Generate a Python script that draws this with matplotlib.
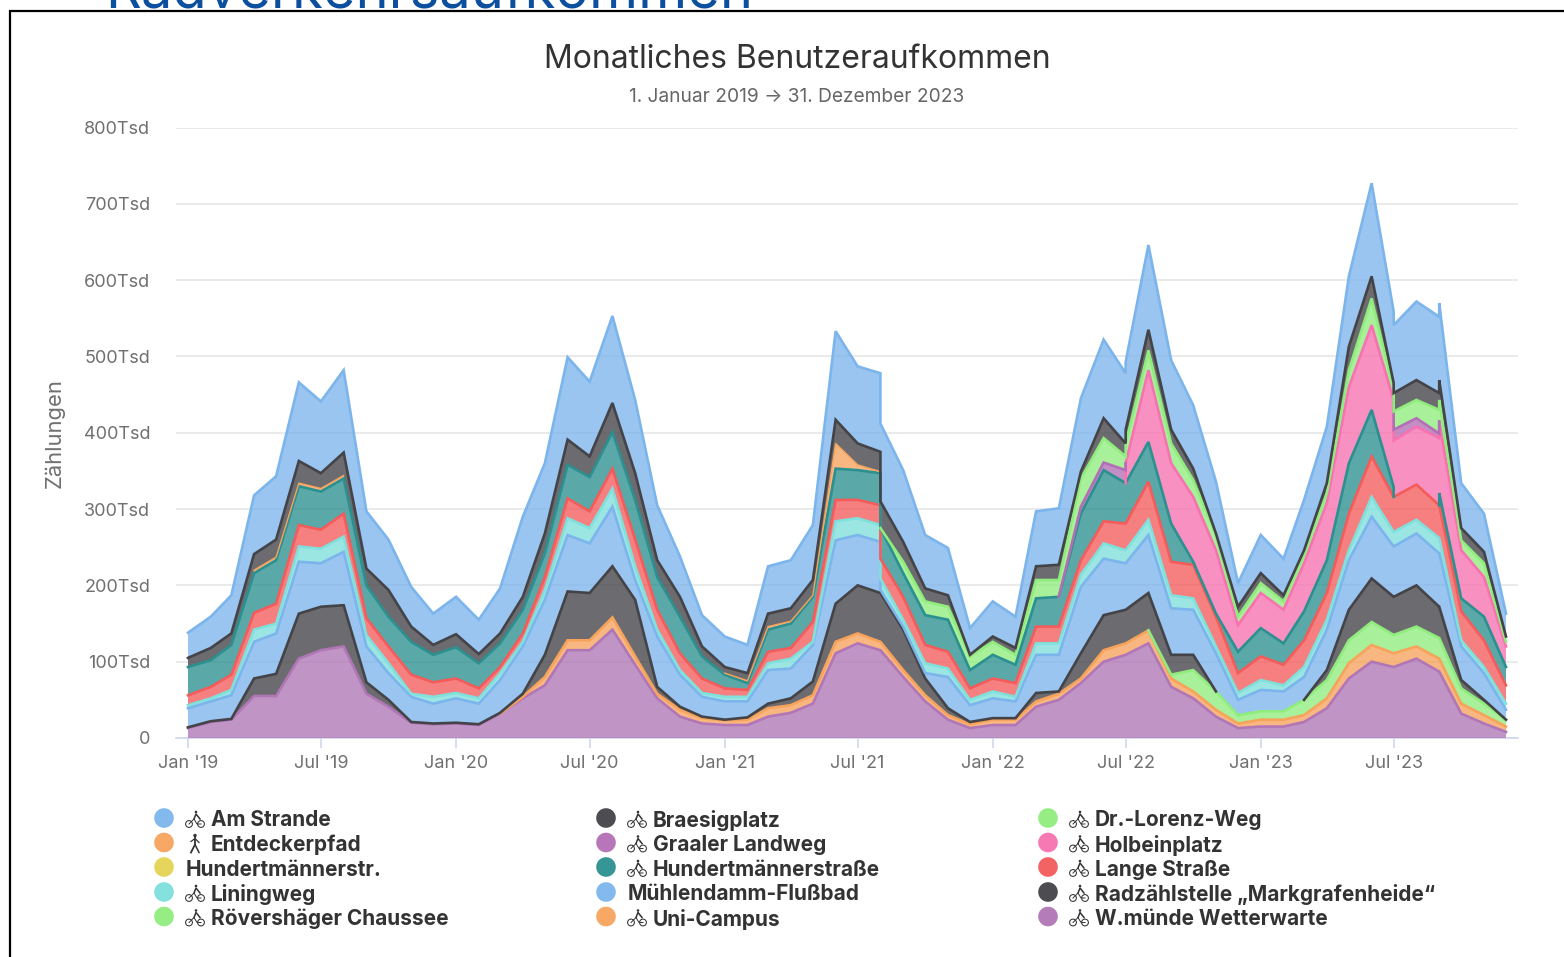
import numpy as np
import pandas as pd
import matplotlib
matplotlib.use("Agg")
import matplotlib.pyplot as plt
import matplotlib.dates as mdates
from matplotlib.patches import Circle

W_PX, H_PX = 1564, 957
FONT = ["Inter", "DejaVu Sans"]
plt.rcParams["font.family"] = FONT

# Months; four of them appear twice in the source (series drop in or out there)
months = pd.date_range("2019-01-01", periods=60, freq="MS")
repeated_months = [31, 42, 54, 56]

# Upper edge of each stack layer in thousands, bottom to top
top_wetterwarte = [13,21,24,55,55,104,115,120,58,41,20,18,19,17,32,52,69,115,115,142,96,52,28,19,17,17,28,33,45,111,124,115,115,80,48,24,13,17,17,41,50,72,100,109,109,124,67,52,28,13,15,15,21,39,78,100,93,93,104,87,87,32,19,8]
top_uni = [13,21,24,55,55,104,115,120,58,41,20,18,19,17,32,54,80,128,128,158,107,58,37,26,23,24,39,43,56,126,137,126,126,89,56,30,18,24,24,48,58,78,115,124,124,141,78,61,37,19,24,24,30,52,98,122,111,111,120,104,104,45,30,15]
top_roevershaeger = [13,21,24,55,55,104,115,120,58,41,20,18,19,17,32,54,80,128,128,158,107,58,37,26,23,24,39,43,56,126,137,126,126,89,56,30,18,24,24,48,58,78,115,124,124,141,83,89,61,30,35,35,50,76,128,152,135,135,146,131,131,65,45,24]
top_radz = [14,22,25,78,84,163,172,174,73,50,21,19,20,18,33,58,109,192,190,225,181,67,41,28,24,27,45,52,74,176,200,190,190,142,78,39,21,26,26,59,61,111,161,168,168,190,109,109,61,30,35,35,50,89,168,209,185,185,200,172,172,76,50,24]
top_muehlendamm = [39,48,56,126,137,231,229,244,120,85,54,45,52,45,76,120,181,266,255,303,207,133,83,54,48,48,89,91,122,259,266,257,194,146,85,80,43,52,48,109,109,198,235,229,229,266,170,168,111,50,63,61,80,142,233,290,251,251,268,242,242,120,85,37]
top_liningweg = [43,52,63,142,150,251,248,264,135,98,58,54,59,52,85,126,194,288,275,327,225,142,89,59,54,54,98,104,126,284,288,279,209,155,98,91,50,61,54,124,124,214,255,246,246,286,187,183,120,59,76,69,93,155,246,316,270,270,286,262,262,128,93,45]
top_lange = [56,67,83,164,176,279,273,294,157,120,83,73,78,65,93,137,211,314,297,353,260,168,111,78,65,63,113,118,152,312,312,305,235,185,122,113,65,78,72,146,146,233,284,281,281,336,231,227,159,85,107,96,128,190,294,369,316,316,332,305,305,166,128,69]
top_hundertstrasse = [93,102,122,216,233,330,323,340,200,159,126,109,119,98,124,168,242,358,342,401,312,211,159,107,83,72,142,150,185,353,351,347,275,216,161,155,89,109,96,183,185,294,351,334,334,388,281,231,163,113,144,124,166,233,360,430,329,316,332,305,321,183,159,93]
top_hundertstr = list(top_hundertstrasse)
top_holbein = [93,102,122,216,233,330,323,340,200,159,126,109,119,98,124,168,242,358,342,401,312,211,159,107,83,72,142,150,185,353,351,347,275,216,161,155,89,109,96,183,185,294,351,334,360,482,360,316,246,148,190,168,229,308,460,541,443,390,408,393,415,246,211,120]
top_graal = [93,102,122,216,233,330,323,340,200,159,126,109,119,98,124,168,242,358,342,401,312,211,159,107,83,72,142,150,185,353,351,347,275,216,161,155,89,109,96,183,185,303,361,351,360,482,360,316,246,148,190,168,229,308,460,541,443,404,419,399,415,246,211,120]
top_entdecker = [93,102,122,220,237,334,327,344,200,159,126,109,119,98,124,168,242,358,342,401,312,211,159,107,85,75,146,153,187,386,358,349,275,216,161,155,89,109,96,183,185,303,361,351,360,482,360,316,246,148,190,168,229,308,460,541,443,404,419,399,415,246,211,120]
top_lorenz = [93,102,122,220,237,334,327,344,200,159,126,109,119,98,124,168,242,358,342,401,312,211,159,107,85,75,146,153,187,386,358,349,275,231,179,172,107,126,109,207,207,340,393,369,386,508,386,338,266,159,203,179,240,321,482,576,456,428,443,430,443,259,229,126]
top_braesig = [105,118,137,241,260,363,347,374,222,194,146,122,136,110,137,185,268,391,369,439,347,233,185,120,93,85,163,170,207,417,386,375,310,257,196,187,109,133,118,225,227,349,419,386,404,535,404,353,268,172,216,187,246,334,513,605,465,452,469,452,469,275,244,133]
top_strande = [138,159,187,318,343,466,441,482,297,260,198,163,185,155,196,290,360,499,467,553,443,305,238,161,133,122,225,233,279,533,487,478,412,351,266,249,144,179,159,297,301,445,522,478,493,646,495,436,336,203,266,235,312,408,605,727,559,541,572,552,570,334,294,163]

# Stack order, bottom to top
stack = [
    (top_wetterwarte, "#b076b6"), (top_uni, "#f7a35c"), (top_roevershaeger, "#90ed7d"),
    (top_radz, "#434348"), (top_muehlendamm, "#7cb5ec"), (top_liningweg, "#7fe0dc"),
    (top_lange, "#f45b5b"), (top_hundertstrasse, "#2b908f"), (top_hundertstr, "#e4d354"),
    (top_holbein, "#f772b0"), (top_graal, "#b36fb5"), (top_entdecker, "#f7a35c"),
    (top_lorenz, "#90ed7d"), (top_braesig, "#434348"), (top_strande, "#7cb5ec"),
]
ENTDECKER = 11

y_ticks = [0, 100, 200, 300, 400, 500, 600, 700, 800]
y_labels = ["0", "100Tsd", "200Tsd", "300Tsd", "400Tsd", "500Tsd", "600Tsd", "700Tsd", "800Tsd"]
x_ticks = pd.date_range("2019-01-01", "2023-07-01", freq="6MS")
x_labels = ["Jan '19", "Jul '19", "Jan '20", "Jul '20", "Jan '21", "Jul '21", "Jan '22", "Jul '22", "Jan '23", "Jul '23"]

legend_rows = [
    [("Am Strande", "#7cb5ec", "bike"), ("Braesigplatz", "#434348", "bike"), ("Dr.-Lorenz-Weg", "#90ed7d", "bike")],
    [("Entdeckerpfad", "#f7a35c", "walk"), ("Graaler Landweg", "#b36fb5", "bike"), ("Holbeinplatz", "#f772b0", "bike")],
    [("Hundertmännerstr.", "#e4d354", None), ("Hundertmännerstraße", "#2b908f", "bike"), ("Lange Straße", "#f45b5b", "bike")],
    [("Liningweg", "#7fe0dc", "bike"), ("Mühlendamm-Flußbad", "#7cb5ec", None), ("Radzählstelle „Markgrafenheide“", "#434348", "bike")],
    [("Rövershäger Chaussee", "#90ed7d", "bike"), ("Uni-Campus", "#f7a35c", "bike"), ("W.münde Wetterwarte", "#b076b6", "bike")],
]

# x values: the repeated months get a second point one hour later
dates = []
for i, m in enumerate(months):
    dates.append(m)
    if i in repeated_months:
        dates.append(m + pd.Timedelta(hours=1))
x = mdates.date2num(dates)

fig = plt.figure(figsize=(W_PX / 100, H_PX / 100), dpi=100, facecolor="white")

# Plot area: pixels 176..1518 across, 127.5..738 down
ax = fig.add_axes([176 / W_PX, 1 - 738 / H_PX, (1518 - 176) / W_PX, (738 - 127.5) / H_PX])
days_per_px = (x[-1] - x[0]) / (1506 - 188)
ax.set_xlim(x[0] - 12 * days_per_px, x[-1] + 12 * days_per_px)
ax.set_ylim(0, 800)

tops = np.array([s[0] for s in stack], dtype=float)
colors = [s[1] for s in stack]
values = np.diff(np.vstack([np.zeros(len(x)), tops]), axis=0)

ax.stackplot(x, values, colors=colors, alpha=0.78, linewidth=0, zorder=3)
for k in range(len(stack)):
    present = values[k] > 0
    keep = present.copy()
    if k != ENTDECKER:
        keep[:-1] |= present[1:]
        keep[1:] |= present[:-1]
    line = np.where(keep, tops[k], np.nan)
    ax.plot(x, line, color=colors[k], lw=1.0 if k == ENTDECKER else 1.9,
            solid_joinstyle="miter", zorder=4 + k * 0.01)

ax.set_yticks(y_ticks, y_labels)
ax.set_xticks(mdates.date2num(x_ticks), x_labels)
ax.grid(axis="y", color="#e6e6e6", lw=1.2, zorder=0)
ax.set_axisbelow(True)
for s in ["top", "left", "right"]:
    ax.spines[s].set_visible(False)
ax.spines["bottom"].set_color("#ccd6eb")
ax.spines["bottom"].set_linewidth(1.2)
ax.tick_params(axis="y", length=0, pad=18.5, labelsize=13, labelcolor="#707070")
ax.tick_params(axis="x", length=7.5, width=1.1, color="#ccd6eb", pad=5, labelsize=13, labelcolor="#707070")

# Page overlay in pixel coordinates: heading, frame, titles, legend
ov = fig.add_axes([0, 0, 1, 1], facecolor="none")
ov.set_xlim(0, W_PX)
ov.set_ylim(H_PX, 0)
ov.axis("off")

ov.text(429, 8, "Radverkehrsaufkommen", color="#0b4f9e", fontsize=40.3, ha="center", va="baseline", clip_on=False)
ov.plot([10, 10, W_PX], [H_PX, 11, 11], color="black", lw=1.6, solid_joinstyle="miter")
ov.text(797, 59.5, "Monatliches Benutzeraufkommen", color="#333333", fontsize=23, ha="center", va="center")
ov.text(797, 97, "1. Januar 2019 → 31. Dezember 2023", color="#666666", fontsize=13.8, ha="center", va="center")
ov.text(55, 433, "Zählungen", color="#707070", fontsize=15.8, rotation=90, ha="center", va="center")


def bike(cx, cy):
    c = "#333333"
    ov.add_patch(Circle((cx - 6, cy + 4), 3.4, fill=False, ec=c, lw=0.75))
    ov.add_patch(Circle((cx + 6, cy + 4), 3.4, fill=False, ec=c, lw=0.75))
    ov.plot([cx - 6, cx - 1, cx + 2, cx + 6], [cy + 4, cy - 1, cy + 4, cy + 4], color=c, lw=0.7)
    ov.plot([cx - 1, cx + 1, cx + 5], [cy - 1, cy - 6, cy - 1], color=c, lw=1.1)
    ov.add_patch(Circle((cx + 1, cy - 8), 1.3, fc=c, ec="none"))


def walker(cx, cy):
    c = "#333333"
    ov.add_patch(Circle((cx, cy - 8), 1.7, fc=c, ec="none"))
    ov.plot([cx, cx, cx - 4], [cy - 6, cy + 1, cy + 9], color=c, lw=1.3)
    ov.plot([cx, cx + 4], [cy + 1, cy + 9], color=c, lw=1.1)
    ov.plot([cx - 4, cx, cx + 4], [cy - 2, cy - 5, cy - 1], color=c, lw=0.9)


col_x = [164, 606, 1048]
row_y = [819, 843.5, 868, 893, 917.5]
for r, row in enumerate(legend_rows):
    for c, (name, color, icon) in enumerate(row):
        x0, y0 = col_x[c], row_y[r]
        ov.add_patch(Circle((x0, y0 - 1), 9.8, fc=color, ec="none", alpha=0.95))
        if icon == "bike":
            bike(x0 + 31, y0 + 1)
        elif icon == "walk":
            walker(x0 + 31, y0)
        tx = x0 + 47 if icon else x0 + 22
        ov.text(tx, y0 + 1.5, name, color="#333333", fontsize=15, fontweight="bold", ha="left", va="center")

fig.savefig("out.png", dpi=100)
